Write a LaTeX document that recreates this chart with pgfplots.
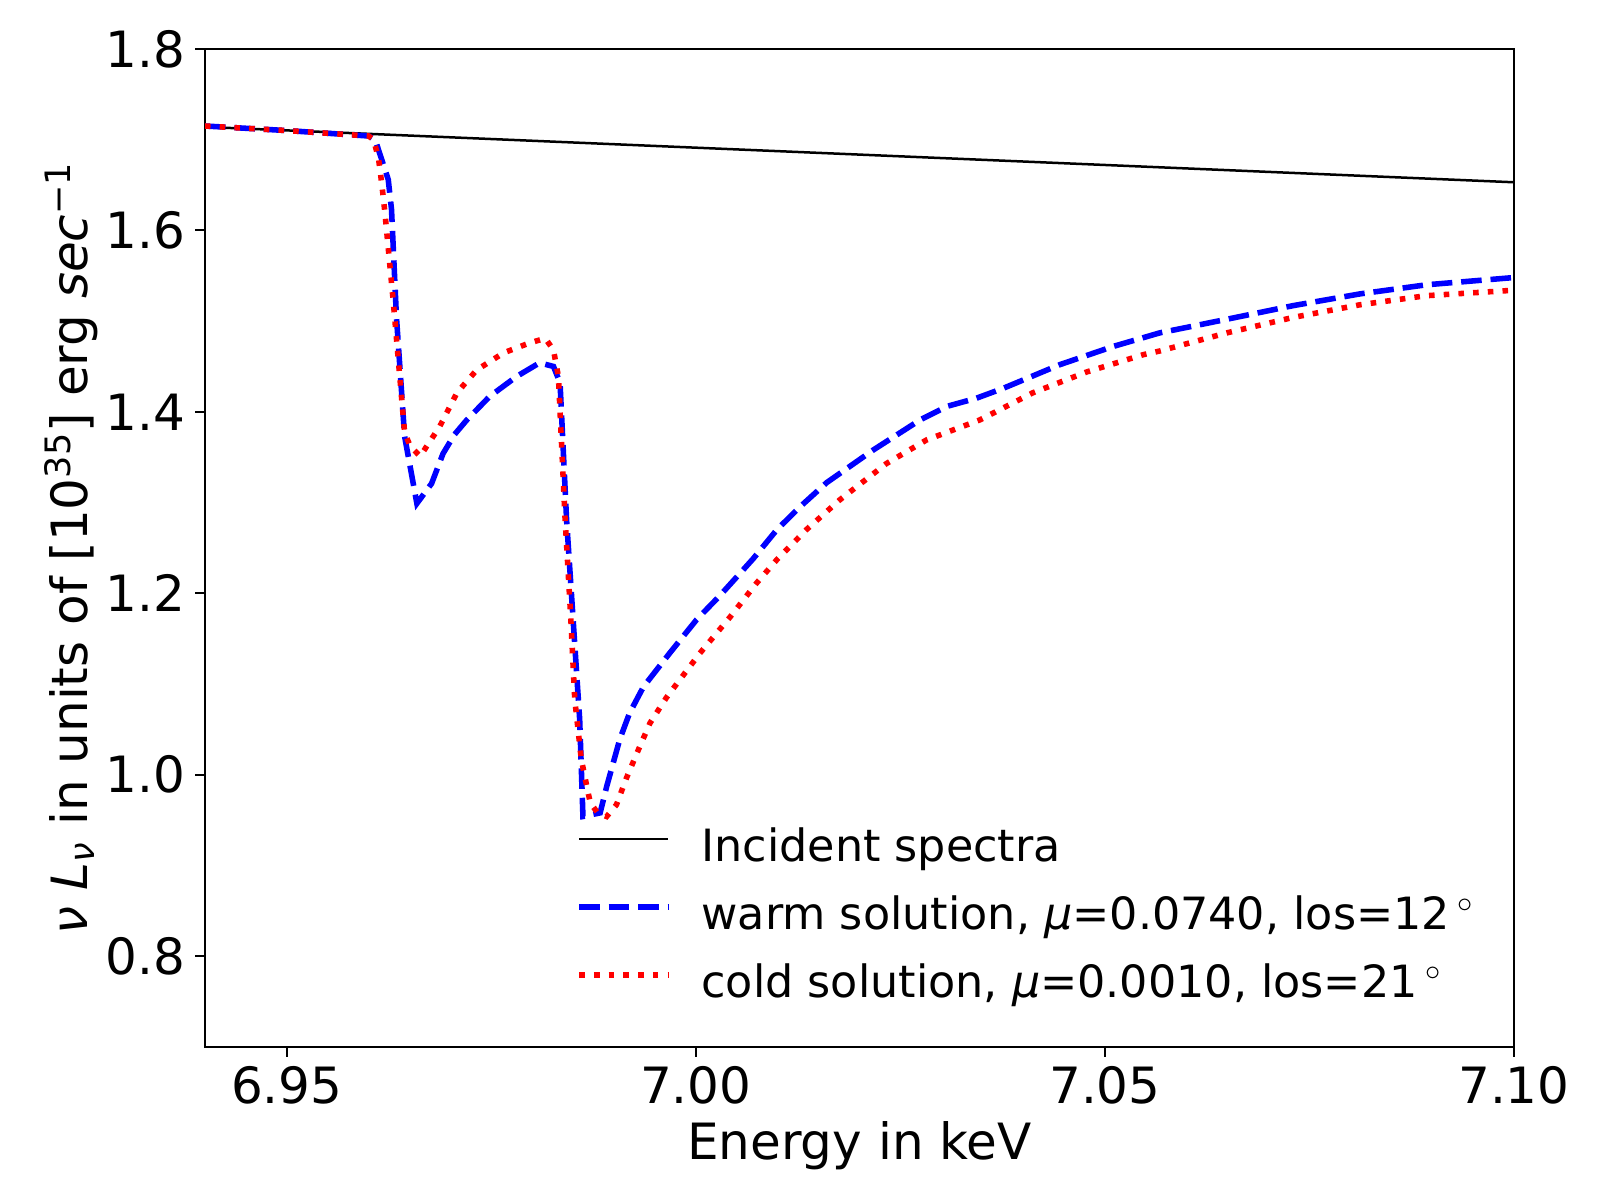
\documentclass[border=0pt]{standalone}
\usepackage{fontspec}
\setmainfont{DejaVu Sans}
\usepackage{pgfplots}
\pgfplotsset{compat=1.18}

\begin{document}
\begin{tikzpicture}
\useasboundingbox (0pt,0pt) rectangle (576pt,432pt);
\begin{axis}[
  at={(73.8pt,55.1pt)}, anchor=south west,
  width=471.2pt, height=359.3pt, scale only axis,
  xmin=6.94, xmax=7.10, ymin=0.7, ymax=1.8,
  xtick={6.95,7.00,7.05,7.10},
  ytick={0.8,1.0,1.2,1.4,1.6,1.8},
  /pgf/number format/assume math mode=true,
  xticklabel style={/pgf/number format/.cd, fixed, fixed zerofill, precision=2},
  yticklabel style={/pgf/number format/.cd, fixed, fixed zerofill, precision=1},
  tick label style={font=\fontsize{18}{21}\selectfont},
  label style={font=\fontsize{18}{21}\selectfont},
  tick align=outside, xtick pos=bottom, ytick pos=left,
  major tick length=3.5pt,
  tick style={black, line width=0.8pt},
  axis line style={line width=0.8pt},
  xlabel={Energy in keV},
  ylabel={{\itshape ν}\ {\itshape L}\textsubscript{\itshape ν} in units of [10\textsuperscript{35}] erg {\itshape sec}\textsuperscript{−1}},
  xlabel style={at={(axis description cs:0.5,-0.113)}, anchor=base},
  ylabel style={at={(axis description cs:-0.1024,0.5)}, anchor=center},
  legend cell align=left,
  legend style={at={(0.2834,0.2199)}, anchor=north west, draw=none, fill=none,
    inner sep=0pt, row sep=8.5pt, column sep=11pt,
    font=\fontsize{16}{19}\selectfont,
    nodes={inner sep=0pt, text height=12pt, text depth=4pt}},
  legend image code/.code={\draw[#1] (0pt,4pt) -- (32pt,4pt);},
]
\addplot[black, line width=0.9pt] coordinates {(6.94,1.714) (7.10,1.653)};
\addlegendentry{Incident spectra}

\addplot[blue, line width=2pt, dash pattern=on 7.4pt off 3.2pt] coordinates {
(6.9400,1.715) (6.9500,1.710) (6.9600,1.704) (6.9608,1.700) (6.9616,1.678)
(6.9624,1.656) (6.9628,1.623) (6.9634,1.505) (6.9644,1.373) (6.9659,1.299)
(6.9677,1.321) (6.9691,1.354) (6.9705,1.375) (6.9720,1.391) (6.9748,1.417)
(6.9781,1.439) (6.9809,1.454) (6.9826,1.450) (6.9834,1.432) (6.9842,1.281)
(6.9850,1.171) (6.9858,1.061) (6.9862,0.954) (6.9883,0.958) (6.9891,0.987)
(6.9907,1.039) (6.9919,1.068) (6.9936,1.097) (6.9968,1.134) (7.0001,1.171)
(7.0030,1.198) (7.0070,1.238) (7.0099,1.270) (7.0127,1.295) (7.0160,1.322)
(7.0217,1.358) (7.0274,1.391) (7.0307,1.406) (7.0343,1.415) (7.0376,1.426)
(7.0445,1.452) (7.0510,1.472) (7.0567,1.487) (7.0649,1.502) (7.0730,1.517)
(7.0812,1.530) (7.0893,1.540) (7.1000,1.548)};
\addlegendentry{warm solution, {\itshape μ}=0.0740, los=12\,$^\circ$}

\addplot[red, line width=2pt, dash pattern=on 2pt off 3.3pt] coordinates {
(6.9400,1.715) (6.9500,1.710) (6.9600,1.704) (6.9606,1.700) (6.9612,1.680)
(6.9616,1.652) (6.9620,1.619) (6.9630,1.523) (6.9644,1.377) (6.9651,1.362)
(6.9663,1.351) (6.9687,1.384) (6.9708,1.421) (6.9732,1.446) (6.9765,1.465)
(6.9797,1.476) (6.9816,1.481) (6.9826,1.468) (6.9832,1.439) (6.9840,1.285)
(6.9847,1.175) (6.9852,1.083) (6.9856,1.050) (6.9860,1.017) (6.9867,0.986)
(6.9871,0.969) (6.9880,0.958) (6.9891,0.954) (6.9903,0.967) (6.9915,0.996)
(6.9930,1.028) (6.9944,1.057) (6.9964,1.085) (6.9974,1.097) (7.0005,1.134)
(7.0042,1.174) (7.0074,1.211) (7.0099,1.237) (7.0135,1.270) (7.0176,1.303)
(7.0233,1.343) (7.0282,1.369) (7.0347,1.391) (7.0412,1.421) (7.0478,1.444)
(7.0547,1.463) (7.0567,1.467) (7.0649,1.487) (7.0730,1.504) (7.0812,1.518)
(7.0893,1.528) (7.1000,1.534)};
\addlegendentry{cold solution, {\itshape μ}=0.0010, los=21\,$^\circ$}
\end{axis}
\end{tikzpicture}
\end{document}
